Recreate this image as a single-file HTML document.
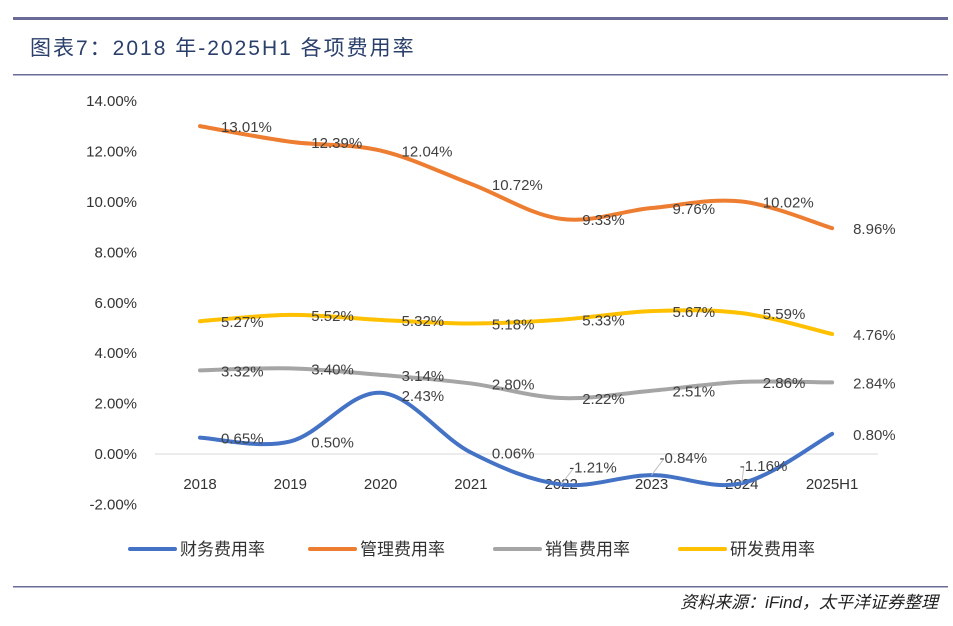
<!DOCTYPE html>
<html><head><meta charset="utf-8"><style>
body{margin:0;background:#fff;width:953px;height:621px;overflow:hidden;font-family:"Liberation Sans","Noto Sans CJK SC",sans-serif}
</style></head><body>
<svg width="953" height="621" xmlns="http://www.w3.org/2000/svg">
<rect x="13" y="17" width="935" height="3" fill="#6b6b9a"/>
<text x="30" y="55" font-size="21" letter-spacing="2" fill="#2b3f6b" font-family="Liberation Sans,Noto Sans CJK SC,sans-serif">图表7：2018 年-2025H1 各项费用率</text>
<rect x="13" y="74" width="935" height="1.5" fill="#6b6b9a"/>
<g id="axes" font-size="15" fill="#333"></g>
<g id="plot"></g>
<g id="legend" font-size="17" fill="#333"></g>
<rect x="13" y="586" width="935" height="1.5" fill="#6b6b9a"/>
<text x="938" y="608" text-anchor="end" font-size="17" font-style="italic" fill="#222">资料来源：iFind，太平洋证券整理</text>
</svg>
<script>
const categories=["2018","2019","2020","2021","2022","2023","2024","2025H1"];
const yTicks=[-2,0,2,4,6,8,10,12,14];
const finance=[0.65,0.50,2.43,0.06,-1.21,-0.84,-1.16,0.80];
const admin=[13.01,12.39,12.04,10.72,9.33,9.76,10.02,8.96];
const sales=[3.32,3.40,3.14,2.80,2.22,2.51,2.86,2.84];
const rnd=[5.27,5.52,5.32,5.18,5.33,5.67,5.59,4.76];
const seriesNames=["财务费用率","管理费用率","销售费用率","研发费用率"];
const NS="http://www.w3.org/2000/svg";
const x=i=>200+i*90.3;
const y=v=>454-v*25.2;
function mk(tag,attrs,parent,txt){const e=document.createElementNS(NS,tag);for(const k in attrs)e.setAttribute(k,attrs[k]);if(txt!==undefined)e.textContent=txt;parent.appendChild(e);return e;}
const axes=document.getElementById('axes'),plot=document.getElementById('plot'),legend=document.getElementById('legend');
yTicks.forEach(t=>{const e=mk('text',{x:137,y:y(t)+5,'text-anchor':'end'},axes,t.toFixed(2)+'%');

});
const base=mk('line',{x1:155,x2:878,y1:y(0),y2:y(0),stroke:'#d9d9d9','stroke-width':1},axes);


categories.forEach((c,i)=>{const e=mk('text',{x:x(i),y:489,'text-anchor':'middle'},axes,c);

});
function path(vals){const p=vals.map((v,i)=>[x(i),y(v)]);let d=`M${p[0][0]},${p[0][1]}`;
for(let i=0;i<p.length-1;i++){const p0=p[i-1]||p[i],p1=p[i],p2=p[i+1],p3=p[i+2]||p2;const t=0.17;
d+=` C${p1[0]+(p2[0]-p0[0])*t},${p1[1]+(p2[1]-p0[1])*t} ${p2[0]-(p3[0]-p1[0])*t},${p2[1]-(p3[1]-p1[1])*t} ${p2[0]},${p2[1]}`;}return d;}
const all=[[finance,'#4472c4','finance'],[admin,'#ed7d31','admin'],[sales,'#a5a5a5','sales'],[rnd,'#ffc000','rnd']];
all.forEach(([vals,col,key])=>{const l=mk('path',{d:path(vals),fill:'none',stroke:col,'stroke-width':4,'stroke-linecap':'round'},plot);

});
all.forEach(([vals,col,key])=>{vals.forEach((v,i)=>{let lx=x(i)+21,ly=y(v)+6;
if(key==='finance'&&v<0){ly=y(v)-12;lx=x(i)+(i===6?-2:8);
const ll=mk('line',{x1:x(i),y1:y(v),x2:lx+4,y2:ly-4,stroke:'#bfbfbf','stroke-width':1},plot);

}
if(key==='finance'&&i===2){ly=y(v)+8;}
const t=mk('text',{x:lx,y:ly,'font-size':15,fill:'#404040'},plot,v.toFixed(2)+'%');

});});
const lx=[130,310,495,680];
all.forEach(([vals,col,key],i)=>{const l=mk('line',{x1:lx[i],x2:lx[i]+45,y1:549,y2:549,stroke:col,'stroke-width':4,'stroke-linecap':'round'},legend);


const t=mk('text',{x:lx[i]+50,y:555},legend,seriesNames[i]);

});
</script>
</body></html>
